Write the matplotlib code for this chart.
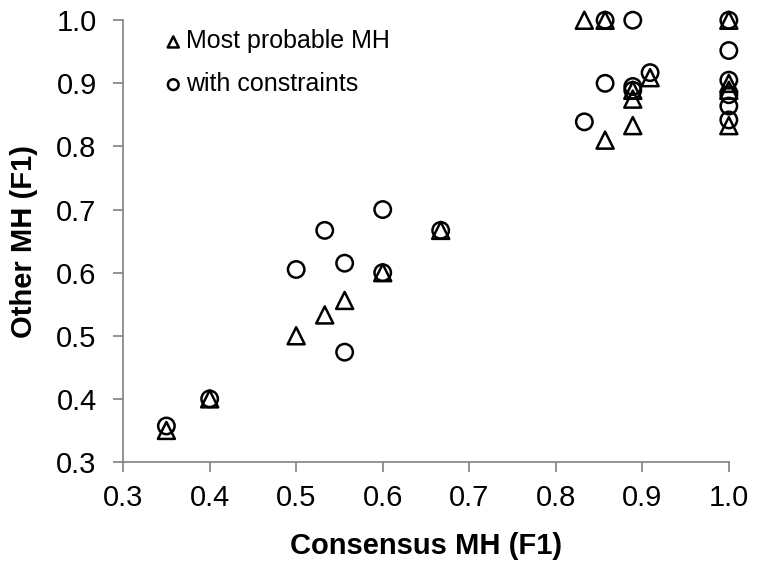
import numpy as np
from matplotlib import pyplot as plt

plt.rcParams['font.family'] = ['Liberation Sans', 'DejaVu Sans']

# most probable MH (triangles)
tri_x = [0.35, 0.4, 0.5, 0.533, 0.556, 0.6, 0.667, 0.833, 0.857, 0.857,
         0.889, 0.889, 0.889, 0.909, 1.0, 1.0, 1.0, 1.0]
tri_y = [0.35, 0.4, 0.5, 0.533, 0.556, 0.6, 0.667, 1.0, 1.0, 0.81,
         0.889, 0.875, 0.833, 0.909, 1.0, 0.9, 0.889, 0.833]

# with constraints (circles)
circ_x = [0.35, 0.4, 0.5, 0.533, 0.556, 0.556, 0.6, 0.6, 0.667, 0.833, 0.857,
          0.857, 0.889, 0.889, 0.889, 0.909, 1.0, 1.0, 1.0, 1.0, 1.0, 1.0]
circ_y = [0.357, 0.4, 0.605, 0.667, 0.615, 0.474, 0.7, 0.6, 0.667, 0.839, 1.0,
          0.9, 1.0, 0.889, 0.895, 0.917, 1.0, 0.952, 0.905, 0.882, 0.864, 0.842]

ticks = [0.3, 0.4, 0.5, 0.6, 0.7, 0.8, 0.9, 1.0]

fig = plt.figure(figsize=(7.6, 5.62), dpi=100)
ax = fig.add_axes([0.162, 0.178, 0.797, 0.786])

ax.scatter(tri_x, tri_y, marker='^', s=150, facecolors='none', edgecolors='black',
           linewidths=1.8, label='Most probable MH', clip_on=False, zorder=3)
ax.scatter(circ_x, circ_y, marker='o', s=140, facecolors='none', edgecolors='black',
           linewidths=1.8, label='with constraints', clip_on=False, zorder=3)

ax.set_xlim(0.3, 1.0)
ax.set_ylim(0.3, 1.0)
ax.set_xticks(ticks)
ax.set_yticks(ticks)
ax.set_xticklabels(['%.1f' % t for t in ticks])
ax.set_yticklabels(['%.1f' % t for t in ticks])
ax.tick_params(direction='out', length=7, width=1.2, color='#808080', labelsize=21)
ax.tick_params(axis='x', pad=9)
ax.tick_params(axis='y', pad=12)
for s in ['top', 'right']:
    ax.spines[s].set_visible(False)
for s in ['left', 'bottom']:
    ax.spines[s].set_color('#808080')
    ax.spines[s].set_linewidth(1.2)

ax.set_xlabel('Consensus MH (F1)', fontsize=21, fontweight='bold', labelpad=14)
ax.set_ylabel('Other MH (F1)', fontsize=21, fontweight='bold', labelpad=13)

ax.legend(loc='upper left', bbox_to_anchor=(0.025, 1.03), frameon=False, fontsize=18,
          markerscale=0.65, handletextpad=0.0, handlelength=1.0, labelspacing=0.75)

fig.savefig('out.png', dpi=100)
